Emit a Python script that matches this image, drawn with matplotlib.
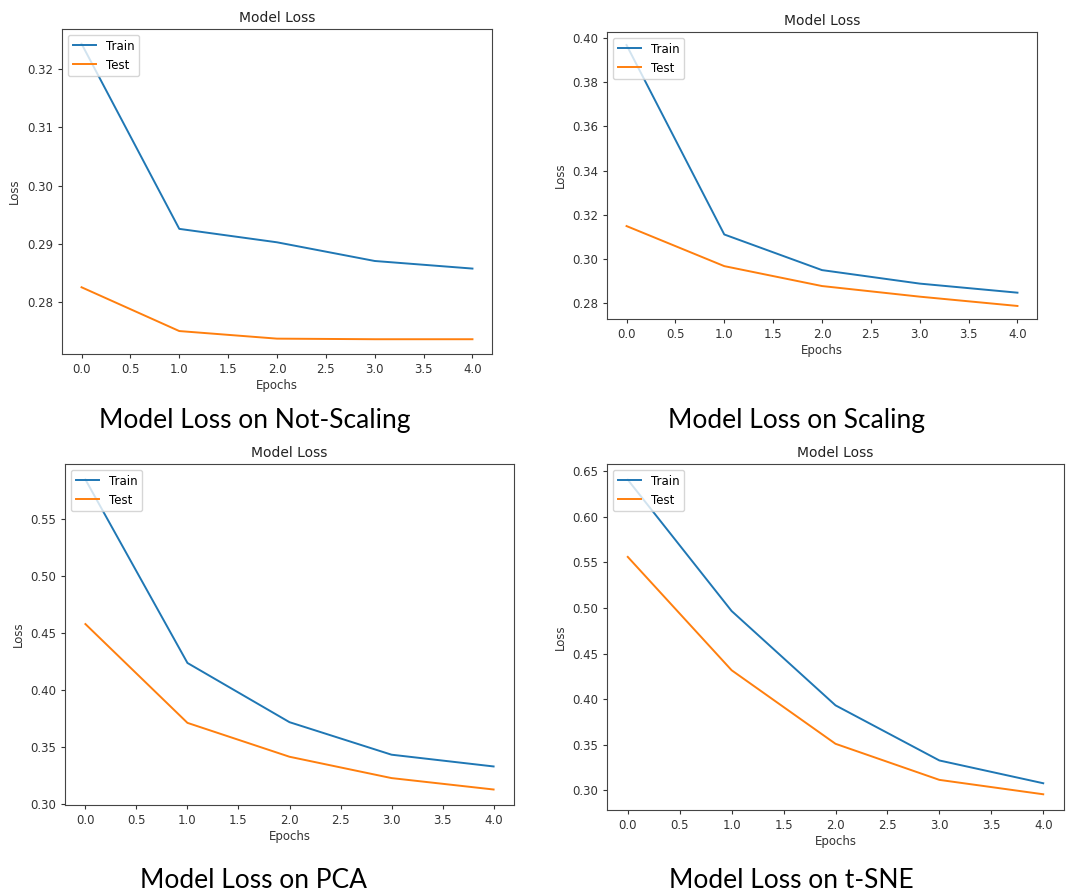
import matplotlib.pyplot as plt

epochs = [0, 1, 2, 3, 4]

# Not-Scaling
ns_train = [0.3243, 0.2926, 0.2903, 0.2871, 0.2858]
ns_test = [0.2826, 0.2751, 0.2738, 0.2737, 0.2737]

# Scaling
sc_train = [0.3967, 0.3111, 0.2950, 0.2889, 0.2848]
sc_test = [0.3149, 0.2968, 0.2878, 0.2830, 0.2788]

# PCA
pca_train = [0.5846, 0.4238, 0.3719, 0.3434, 0.3331]
pca_test = [0.4579, 0.3713, 0.3416, 0.3229, 0.3129]

# t-SNE
tsne_train = [0.6408, 0.4967, 0.3932, 0.3327, 0.3077]
tsne_test = [0.5561, 0.4317, 0.3510, 0.3114, 0.2956]

captions = ["Model Loss on Not-Scaling", "Model Loss on Scaling",
            "Model Loss on PCA", "Model Loss on t-SNE"]

W, H = 1067, 896
fig = plt.figure(figsize=(W / 100, H / 100), dpi=100)

# axes boxes in pixels: left, top, right, bottom
boxes = [(62, 29, 492, 354), (607, 32, 1037, 319),
         (65, 464, 514, 805), (607, 464, 1064, 810)]
caption_pos = [(255, 420), (797, 420), (253, 880), (791, 880)]
series = [(ns_train, ns_test), (sc_train, sc_test),
          (pca_train, pca_test), (tsne_train, tsne_test)]

for (l, t, r, b), (tr, te), cap, (cx, cy) in zip(boxes, series, captions, caption_pos):
    ax = fig.add_axes([l / W, 1 - b / H, (r - l) / W, (b - t) / H])
    ax.plot(epochs, tr, color='#1f77b4', lw=1.4, label='Train')
    ax.plot(epochs, te, color='#ff7f0e', lw=1.4, label='Test')
    ax.set_title('Model Loss', fontsize=10, color='#222222', pad=5)
    ax.set_xlabel('Epochs', fontsize=8.5, color='#333333', labelpad=2)
    ax.set_ylabel('Loss', fontsize=8.5, color='#333333', labelpad=4)
    ax.set_xticks([0, 0.5, 1, 1.5, 2, 2.5, 3, 3.5, 4])
    ax.tick_params(labelsize=8.5, colors='#333333', length=3)
    for s in ax.spines.values():
        s.set_color('#444444')
    ax.legend(loc='upper left', fontsize=8.5)
    fig.text(cx / W, 1 - cy / H, cap, ha='center', va='center',
             fontsize=19, family='Lato', color='black')

plt.savefig('out.png', dpi=100)
